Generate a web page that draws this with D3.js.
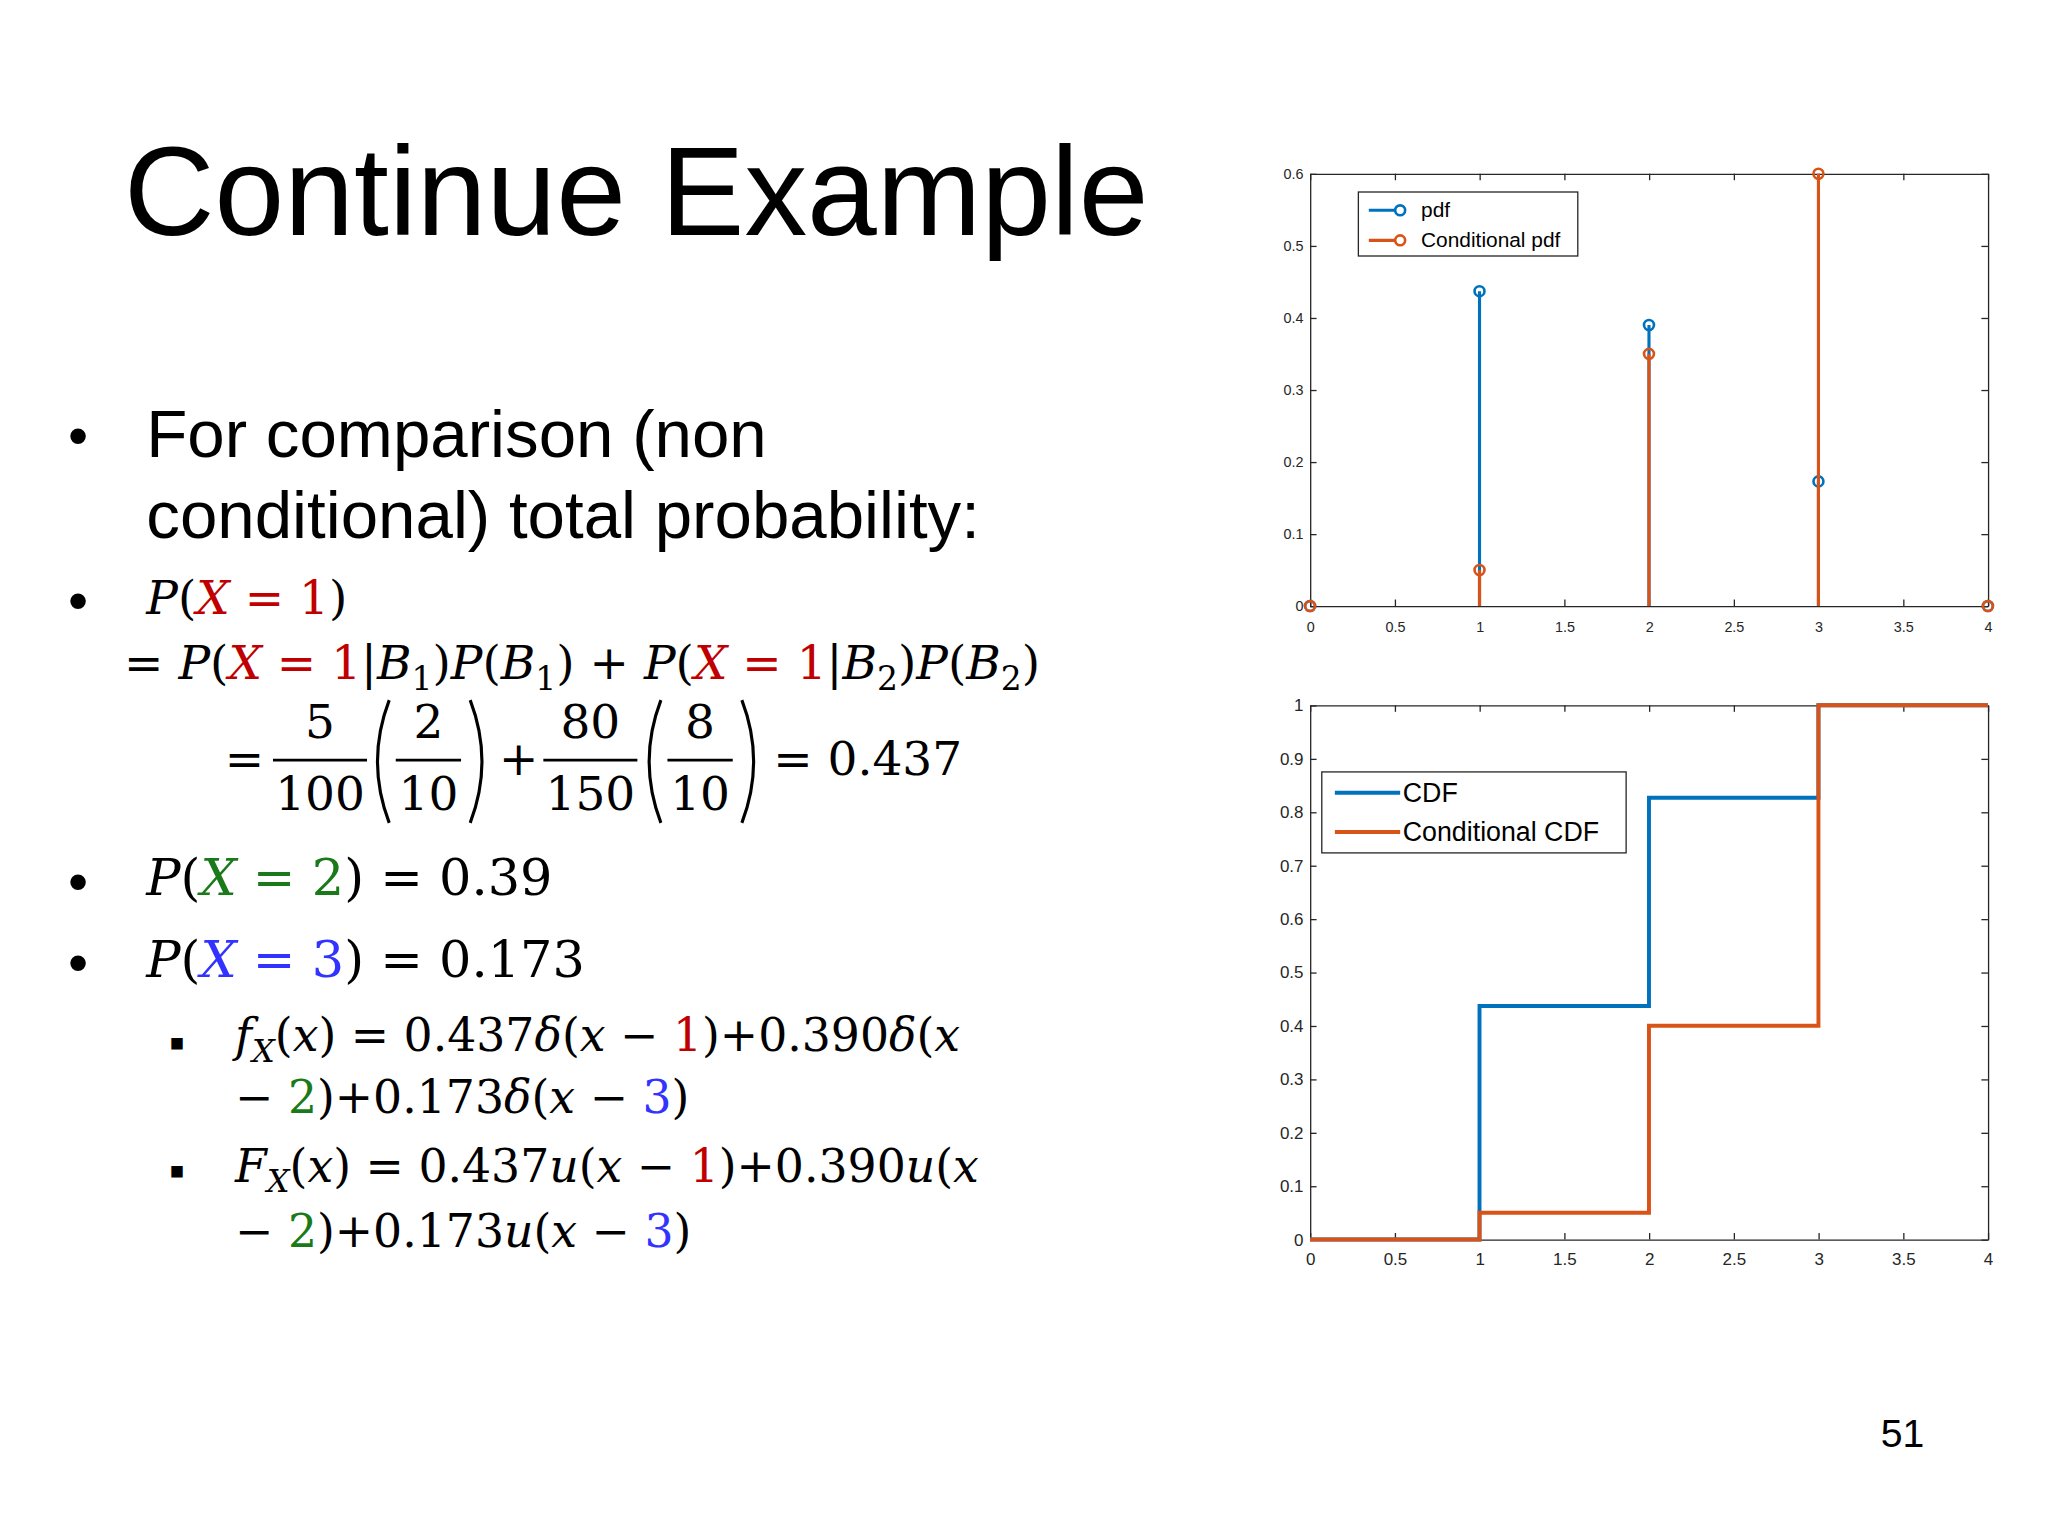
<!DOCTYPE html>
<html>
<head>
<meta charset="utf-8">
<script src="https://cdn.jsdelivr.net/npm/d3@7"></script>
<style>
  body { margin: 0; background: #fff; }
</style>
</head>
<body>
<script>
// values
const xs = [0, 1, 2, 3, 4];
const pdf = [0, 0.437, 0.39, 0.173, 0];
const condPdf = [0, 0.05, 0.35, 0.6, 0];
const cdfSteps = [0, 0.437, 0.827, 1];
const condCdfSteps = [0, 0.05, 0.4, 1];
const xTicks = [0, 0.5, 1, 1.5, 2, 2.5, 3, 3.5, 4];
const pdfTicks = [0, 0.1, 0.2, 0.3, 0.4, 0.5, 0.6];
const cdfTicks = [0, 0.1, 0.2, 0.3, 0.4, 0.5, 0.6, 0.7, 0.8, 0.9, 1];

const BLUE = "#0072BD", ORANGE = "#D95319";
const RED = "#c00000", GREEN = "#1a7a1a", VIOLET = "#3333ff";

const k = 2048 / 1568;
const svg = d3.select("body").append("svg")
  .attr("width", 2048).attr("height", 1536);
svg.append("rect").attr("width", 2048).attr("height", 1536).attr("fill", "#fff");
const g = svg.append("g").attr("transform", `scale(${k})`);

// ---------- text side ----------
const sans = "Liberation Sans, Arial, sans-serif";
const serif = "DejaVu Serif, Liberation Serif, serif";

g.append("text").attr("x", 95).attr("y", 180)
  .attr("font-family", sans).attr("font-size", 96).text("Continue Example");

function bullet(x, y, ch, size) {
  g.append("text").attr("x", x).attr("y", y).attr("font-family", sans)
    .attr("font-size", size || 44).text(ch || "•");
}
bullet(52, 348);
g.append("text").attr("x", 112).attr("y", 350).attr("font-family", sans)
  .attr("font-size", 51.5).text("For comparison (non");
g.append("text").attr("x", 112).attr("y", 412).attr("font-family", sans)
  .attr("font-size", 51.5).text("conditional) total probability:");

// math line helper: parts = [text, color, italic, sub]
function mathLine(x, y, parts, size) {
  const fs = size || 36;
  const t = g.append("text").attr("x", x).attr("y", y)
    .attr("font-family", serif).attr("font-size", fs);
  parts.forEach(p => {
    const [s, c, it, sub] = p;
    const ts = t.append("tspan").text(s).attr("fill", c || "#000")
      .attr("font-style", it ? "italic" : "normal");
    if (sub) ts.attr("font-size", fs * 0.7).attr("dy", 8);
    else if (p.back) ts.attr("dy", -8);
  });
  return t;
}
function P(s, c, it, sub) { return [s, c, it, sub]; }
function back(s, c, it) { const a = [s, c, it, false]; a.back = true; return a; }

bullet(52, 475);
mathLine(112, 470, [P("P", null, 1), P("("), P("X", RED, 1), P(" = 1", RED), P(")")]);
mathLine(95, 520, [P("= "), P("P", null, 1), P("("), P("X", RED, 1), P(" = 1", RED), P("|"),
  P("B", null, 1), P("1", null, 0, 1), back(")"), P("P", null, 1), P("("), P("B", null, 1), P("1", null, 0, 1),
  back(") + "), P("P", null, 1), P("("), P("X", RED, 1), P(" = 1", RED), P("|"), P("B", null, 1),
  P("2", null, 0, 1), back(")"), P("P", null, 1), P("("), P("B", null, 1), P("2", null, 0, 1), back(")")]);

// fraction line
function frac(cx, num, den) {
  g.append("text").attr("x", cx).attr("y", 565).attr("text-anchor", "middle")
    .attr("font-family", serif).attr("font-size", 36).text(num);
  g.append("text").attr("x", cx).attr("y", 620).attr("text-anchor", "middle")
    .attr("font-family", serif).attr("font-size", 36).text(den);
  const w = den.length * 22 + 6;
  g.append("line").attr("x1", cx - w / 2).attr("x2", cx + w / 2)
    .attr("y1", 582).attr("y2", 582).attr("stroke", "#000").attr("stroke-width", 2);
}
// tall parentheses drawn as curves
function paren(x, dir) {
  const t = 536, b = 630, bow = 9 * dir;
  g.append("path")
    .attr("d", `M${x},${t} Q${x - bow * 2},${(t + b) / 2} ${x},${b}`)
    .attr("fill", "none").attr("stroke", "#000").attr("stroke-width", 2.4);
}
g.append("text").attr("x", 172).attr("y", 593).attr("font-family", serif).attr("font-size", 36).text("=");
frac(245, "5", "100");
paren(298, 1);
frac(328, "2", "10");
paren(360, -1);
g.append("text").attr("x", 382).attr("y", 593).attr("font-family", serif).attr("font-size", 36).text("+");
frac(452, "80", "150");
paren(506, 1);
frac(536, "8", "10");
paren(568, -1);
g.append("text").attr("x", 592).attr("y", 593).attr("font-family", serif).attr("font-size", 36).text("= 0.437");

bullet(52, 690);
mathLine(112, 685, [P("P", null, 1), P("("), P("X", GREEN, 1), P(" = 2", GREEN), P(") = 0.39")], 39);
bullet(52, 752);
mathLine(112, 748, [P("P", null, 1), P("("), P("X", VIOLET, 1), P(" = 3", VIOLET), P(") = 0.173")], 39);

bullet(130, 805, "■", 18);
mathLine(180, 805, [P("f", null, 1), P("X", null, 1, 1), back("("), P("x", null, 1), P(") = 0.437"),
  P("δ", null, 1), P("("), P("x", null, 1), P(" − "), P("1", RED), P(")+0.390"), P("δ", null, 1),
  P("("), P("x", null, 1)], 35);
mathLine(180, 852, [P("− "), P("2", GREEN), P(")+0.173"), P("δ", null, 1), P("("), P("x", null, 1),
  P(" − "), P("3", VIOLET), P(")")], 35);
bullet(130, 903, "■", 18);
mathLine(180, 905, [P("F", null, 1), P("X", null, 1, 1), back("("), P("x", null, 1), P(") = 0.437"),
  P("u", null, 1), P("("), P("x", null, 1), P(" − "), P("1", RED), P(")+0.390"), P("u", null, 1),
  P("("), P("x", null, 1)], 35);
mathLine(180, 955, [P("− "), P("2", GREEN), P(")+0.173"), P("u", null, 1), P("("), P("x", null, 1),
  P(" − "), P("3", VIOLET), P(")")], 35);

g.append("text").attr("x", 1440).attr("y", 1108).attr("font-family", sans)
  .attr("font-size", 30).text("51");

// ---------- plots ----------
function frame(x0, x1, y0, y1, yMax, yTicks, fs, pad) {
  const x = d3.scaleLinear().domain([0, 4]).range([x0, x1]);
  const y = d3.scaleLinear().domain([0, yMax]).range([y1, y0]);
  const ax = g.append("g").attr("font-family", sans);
  ax.append("g").attr("transform", `translate(0,${y1})`)
    .call(d3.axisBottom(x).tickValues(xTicks).tickFormat(d3.format("")).tickSizeInner(-5).tickSizeOuter(0).tickPadding(pad));
  ax.append("g").attr("transform", `translate(0,${y0})`)
    .call(d3.axisTop(x).tickValues(xTicks).tickFormat("").tickSizeInner(-5).tickSizeOuter(0));
  ax.append("g").attr("transform", `translate(${x0},0)`)
    .call(d3.axisLeft(y).tickValues(yTicks).tickFormat(d3.format("")).tickSizeInner(-5).tickSizeOuter(0).tickPadding(5));
  ax.append("g").attr("transform", `translate(${x1},0)`)
    .call(d3.axisRight(y).tickValues(yTicks).tickFormat("").tickSizeInner(-5).tickSizeOuter(0));
  ax.selectAll("text").attr("font-size", fs).attr("fill", "#262626");
  ax.selectAll("path,line").attr("stroke", "#262626");
  return { x, y };
}

// top: stem plot
const pdfPlot = frame(1003, 1522, 133, 464, 0.6, pdfTicks, 11, 12);
[[pdf, BLUE], [condPdf, ORANGE]].forEach(([vals, col]) => {
  const s = g.append("g");
  s.selectAll("line").data(xs).join("line")
    .attr("x1", d => pdfPlot.x(d)).attr("x2", d => pdfPlot.x(d))
    .attr("y1", pdfPlot.y(0)).attr("y2", (d, i) => pdfPlot.y(vals[i]))
    .attr("stroke", col).attr("stroke-width", 2.4);
  s.selectAll("circle").data(xs).join("circle")
    .attr("cx", d => pdfPlot.x(d)).attr("cy", (d, i) => pdfPlot.y(vals[i])).attr("r", 3.8)
    .attr("fill", "none").attr("stroke", col).attr("stroke-width", 2);
});
const lg1 = g.append("g");
lg1.append("rect").attr("x", 1040).attr("y", 147).attr("width", 168).attr("height", 49)
  .attr("fill", "#fff").attr("stroke", "#262626");
[["pdf", BLUE, 161], ["Conditional pdf", ORANGE, 184]].forEach(([t, c, yy]) => {
  lg1.append("line").attr("x1", 1048).attr("x2", 1076).attr("y1", yy).attr("y2", yy)
    .attr("stroke", c).attr("stroke-width", 2.4);
  lg1.append("circle").attr("cx", 1072).attr("cy", yy).attr("r", 3.8).attr("fill", "#fff")
    .attr("stroke", c).attr("stroke-width", 2);
  lg1.append("text").attr("x", 1088).attr("y", yy + 5).attr("font-family", sans)
    .attr("font-size", 16).text(t);
});

// bottom: step CDF
const cdfPlot = frame(1003, 1522, 540, 949, 1, cdfTicks, 13, 10);
const stepLine = d3.line().x(d => cdfPlot.x(d[0])).y(d => cdfPlot.y(d[1])).curve(d3.curveStepAfter);
[[cdfSteps, BLUE], [condCdfSteps, ORANGE]].forEach(([vals, col]) => {
  const pts = vals.map((v, i) => [i, v]).concat([[4, vals[vals.length - 1]]]);
  g.append("path").attr("d", stepLine(pts)).attr("fill", "none")
    .attr("stroke", col).attr("stroke-width", 3);
});
const lg2 = g.append("g");
lg2.append("rect").attr("x", 1012).attr("y", 591).attr("width", 233).attr("height", 62)
  .attr("fill", "#fff").attr("stroke", "#262626");
[["CDF", BLUE, 607], ["Conditional CDF", ORANGE, 637]].forEach(([t, c, yy]) => {
  lg2.append("line").attr("x1", 1022).attr("x2", 1072).attr("y1", yy).attr("y2", yy)
    .attr("stroke", c).attr("stroke-width", 3);
  lg2.append("text").attr("x", 1074).attr("y", yy + 7).attr("font-family", sans)
    .attr("font-size", 20.5).text(t);
});
</script>
</body>
</html>
